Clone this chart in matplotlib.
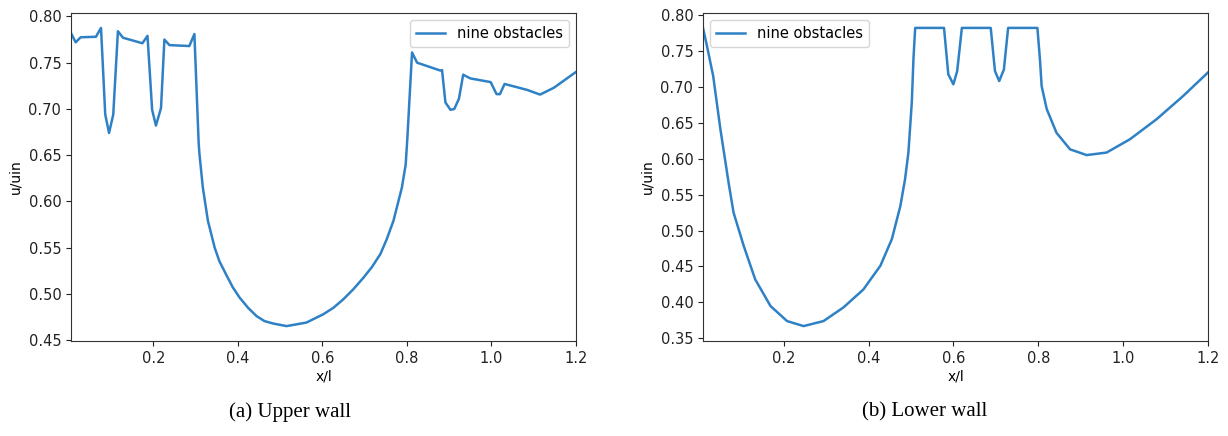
import matplotlib
matplotlib.use("Agg")
import matplotlib.pyplot as plt

# Upper wall (a)
upper_x = [0.005, 0.016, 0.028, 0.064, 0.076, 0.086, 0.095, 0.105, 0.116, 0.128,
           0.174, 0.186, 0.197, 0.206, 0.218, 0.226, 0.238, 0.285, 0.297, 0.307,
           0.309, 0.317, 0.329, 0.345, 0.356, 0.372, 0.388, 0.404, 0.424, 0.444,
           0.463, 0.483, 0.515, 0.562, 0.602, 0.626, 0.649, 0.673, 0.697, 0.717,
           0.737, 0.752, 0.768, 0.788, 0.797, 0.801, 0.812, 0.824,
           0.879, 0.883, 0.891, 0.903, 0.912, 0.923, 0.933, 0.950, 0.998, 1.012,
           1.020, 1.031, 1.085, 1.115, 1.148, 1.200]
upper_y = [0.782, 0.772, 0.7775, 0.778, 0.7876, 0.694, 0.674, 0.694, 0.784, 0.777,
           0.771, 0.779, 0.699, 0.682, 0.701, 0.775, 0.769, 0.768, 0.781, 0.664,
           0.651, 0.615, 0.579, 0.550, 0.5355, 0.521, 0.507, 0.496, 0.485, 0.476,
           0.4706, 0.468, 0.4652, 0.469, 0.478, 0.485, 0.494, 0.505, 0.5175, 0.529,
           0.543, 0.559, 0.579, 0.615, 0.640, 0.669, 0.761, 0.750,
           0.7415, 0.742, 0.707, 0.699, 0.700, 0.711, 0.737, 0.733, 0.729, 0.716,
           0.716, 0.727, 0.7205, 0.7155, 0.723, 0.740]

# Lower wall (b)
lower_x = [0.010, 0.020, 0.034, 0.051, 0.071, 0.082, 0.106, 0.133, 0.169, 0.208,
           0.247, 0.294, 0.341, 0.388, 0.428, 0.455, 0.475, 0.486, 0.494, 0.502,
           0.506, 0.510, 0.578, 0.588, 0.600, 0.609, 0.620, 0.688, 0.698, 0.708,
           0.719, 0.729, 0.798, 0.804, 0.808, 0.820, 0.843, 0.875, 0.914, 0.961,
           1.016, 1.079, 1.141, 1.200]
lower_y = [0.782, 0.755, 0.715, 0.641, 0.564, 0.525, 0.4785, 0.432, 0.395, 0.374,
           0.367, 0.374, 0.393, 0.418, 0.451, 0.488, 0.534, 0.571, 0.6085, 0.678,
           0.740, 0.782, 0.782, 0.7175, 0.7035, 0.722, 0.782, 0.782, 0.722, 0.708,
           0.724, 0.782, 0.782, 0.738, 0.701, 0.669, 0.636, 0.613, 0.605, 0.6085,
           0.627, 0.655, 0.687, 0.720]

series_label = "nine obstacles"
captions = ["(a) Upper wall", "(b) Lower wall"]
xticks = [0.2, 0.4, 0.6, 0.8, 1.0, 1.2]
upper_yticks = [0.45, 0.50, 0.55, 0.60, 0.65, 0.70, 0.75, 0.80]
lower_yticks = [0.35, 0.40, 0.45, 0.50, 0.55, 0.60, 0.65, 0.70, 0.75, 0.80]

color = "#2f81c6"

fig = plt.figure(figsize=(12.28, 4.36), dpi=100)
ax1 = fig.add_axes([71 / 1228, 1 - 341 / 436, (576 - 71) / 1228, (341 - 13) / 436])
ax2 = fig.add_axes([703 / 1228, 1 - 341 / 436, (1208 - 703) / 1228, (341 - 13) / 436])

panels = [(ax1, upper_x, upper_y, upper_yticks, "upper right"),
          (ax2, lower_x, lower_y, lower_yticks, "upper left")]

for ax, xs, ys, yt, loc in panels:
    ax.plot(xs, ys, color=color, lw=1.8, label=series_label,
            solid_joinstyle="round")
    ax.set_xlim(xs[0], 1.2)
    ax.margins(y=0.05)
    ax.set_xticks(xticks)
    ax.set_xticklabels([f"{t:.1f}" for t in xticks])
    ax.set_yticks(yt)
    ax.set_yticklabels([f"{t:.2f}" for t in yt])
    ax.tick_params(labelsize=10.5, colors="#222222")
    for s in ax.spines.values():
        s.set_color("#333333")
    ax.set_xlabel("x/l", fontsize=10, labelpad=3)
    ax.set_ylabel("u/uin", fontsize=10, labelpad=4)
    ax.legend(loc=loc, fontsize=10.5, handlelength=2.0)

fig.text(0.236, 0.055, captions[0], ha="center", va="center",
         family="Liberation Serif", fontsize=15)
fig.text(0.753, 0.055, captions[1], ha="center", va="center",
         family="Liberation Serif", fontsize=15)

fig.savefig("out.png", dpi=100)
